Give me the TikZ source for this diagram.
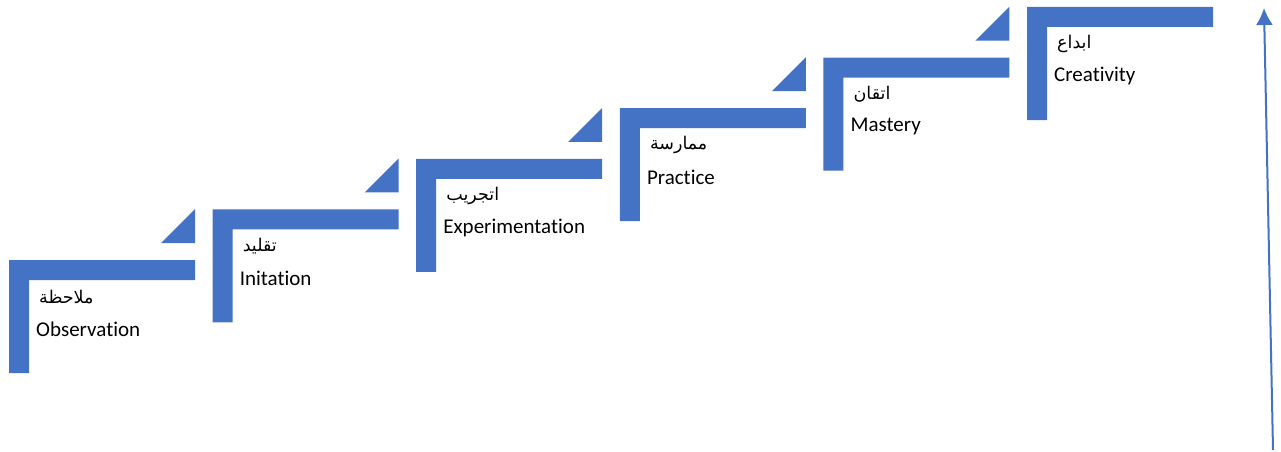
\documentclass[tikz,border=0pt]{standalone}
\usepackage{fontspec}
\setmainfont{Carlito}[Ligatures={NoCommon,NoRare,NoContextual}]
\newfontfamily\arabicfont[Script=Arabic]{DejaVu Sans}
\TeXXeTstate=1
\definecolor{stepblue}{HTML}{4472C4}
\tikzset{
  stepshape/.style={fill=stepblue, draw=none},
  entext/.style={anchor=west, inner sep=0pt, font=\fontsize{21}{25}\selectfont},
  artext/.style={anchor=west, inner sep=0pt, font=\arabicfont\fontsize{17.5}{21}\selectfont},
  growarrow/.style={draw=stepblue, line width=2pt, -{Latex[length=17pt,width=17pt]}}
}
\usetikzlibrary{arrows.meta}
\begin{document}
\begin{tikzpicture}[x=1pt,y=1pt]
\useasboundingbox (0,0) rectangle (1281,451);
\foreach \i/\ar/\en [count=\n from 0] in {
  0/{ملاحظة}/Observation,
  1/{تقليد}/Initation,
  2/{اتجريب}/Experimentation,
  3/{ممارسة}/Practice,
  4/{اتقان}/Mastery,
  5/{ابداع}/Creativity}{
  \pgfmathsetmacro{\L}{9+203.6*\i}
  \pgfmathsetmacro{\T}{191+50.6*\i}
  \fill[stepshape] (\L,\T) -- ++(186,0) -- ++(0,-20) -- ++(-166,0) -- ++(0,-93) -- ++(-20,0) -- cycle;
  \ifnum\i<5
    \fill[stepshape] (\L+186,\T+17) -- (\L+186,\T+51) -- (\L+152,\T+17) -- cycle;
  \fi
  \node[artext] (ar\i) at (\L+30,\T-37) {\beginR\ar\endR};
  \node[entext] (en\i) at (\L+27,\T-69) {\en};
}
\coordinate (arrowfoot) at (1273,1);
\coordinate (arrowtip) at (1264,443);
\draw[growarrow] (arrowfoot) -- (arrowtip);
\end{tikzpicture}
\end{document}
